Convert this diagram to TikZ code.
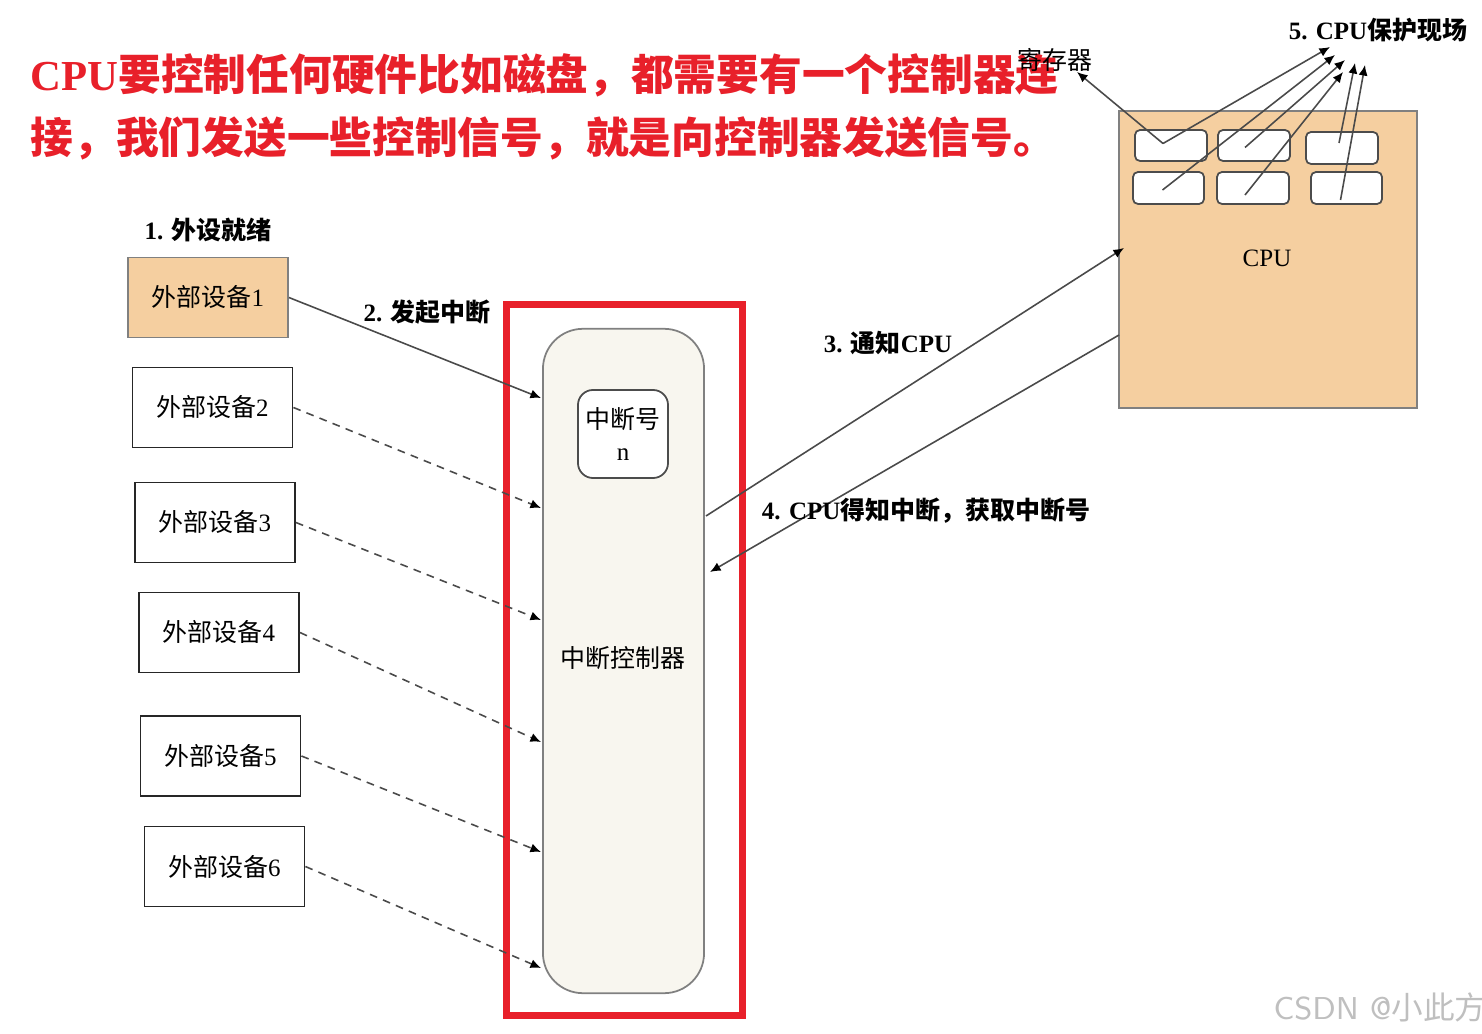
\documentclass[tikz,border=0pt]{standalone}
\usepackage{fontspec}
\setmainfont{Liberation Serif}
\newfontfamily\cjk{Noto Sans CJK SC}
\usepackage{tikz}
\usetikzlibrary{arrows.meta, positioning, calc}
\newcommand{\zh}[1]{{\cjk #1}}
\definecolor{titlered}{HTML}{E8202A}
\definecolor{devorange}{HTML}{F5CFA0}
\definecolor{ctrlcream}{HTML}{F8F6EF}
\definecolor{linegray}{HTML}{4A4A4A}

\begin{document}
\begin{tikzpicture}[
    x=0.01cm, y=-0.01cm,
    every node/.style={font=\fontsize{7.1}{8}\selectfont, inner sep=1pt},
    devbox/.style={rectangle, draw=black!85, line width=0.5pt, fill=white, minimum width=1.6cm, minimum height=0.8cm},
    readybox/.style={devbox, draw=black!50, fill=devorange},
    ctrlbox/.style={rectangle, rounded corners=0.4cm, draw=black!50, line width=0.5pt, fill=ctrlcream, minimum width=1.61cm, minimum height=6.64cm},
    numbox/.style={rectangle, rounded corners=0.15cm, draw=black!70, line width=0.5pt, fill=white, minimum width=0.9cm, minimum height=0.88cm, align=center},
    cpubox/.style={rectangle, draw=black!50, line width=0.6pt, fill=devorange, minimum width=2.98cm, minimum height=2.97cm},
    regbox/.style={rectangle, rounded corners=0.05cm, draw=black!70, line width=0.5pt, fill=white, minimum width=0.72cm, minimum height=0.31cm, inner sep=0pt},
    steplabel/.style={font=\fontsize{7.1}{8}\selectfont\bfseries},
    titletext/.style={font=\fontsize{12.15}{14}\selectfont\bfseries, text=titlered, anchor=west, inner sep=0pt},
    arr/.style={-{Latex[length=3pt,width=2.6pt,color=black]}, draw=linegray, line width=0.45pt},
    dasharr/.style={arr, dash pattern=on 2.2pt off 1.8pt}
]
\useasboundingbox (0,0) rectangle (1482,1034);

% Titel
\node[titletext] (title1) at (30,75) {CPU\zh{要控制任何硬件比如磁盘，都需要有一个控制器连}};
\node[titletext] (title2) at (30,138) {\zh{接，我们发送一些控制信号，就是向控制器发送信号。}};

% Interrupt controller
\node[draw=titlered, line width=2pt, minimum width=2.35cm, minimum height=7.1cm, inner sep=0pt] (redframe) at (624.5,660) {};
\node[ctrlbox] (ctrl) at (623.5,661) {};
\node at (623,658) (ctrllabel) {\zh{中断控制器}};
\node[numbox] (num) at (623,434) {\zh{中断号}\\[1pt]n};

% Peripheral devices
\node[readybox] (d1) at (208,297.5) {\zh{外部设备}1};
\foreach \i/\x/\y in {2/212.5/407.5, 3/215/522.5, 4/219/632.5, 5/220.5/756, 6/224.5/866.5} {
    \node[devbox] (d\i) at (\x,\y) {\zh{外部设备}\i};
}
\node[steplabel, above=0.1cm of d1] (ready) {1. \zh{外设就绪}};

% Interrupt lines into the controller
\foreach \i/\y in {1/398, 2/508, 3/620, 4/742, 5/852, 6/968} {
    \coordinate (in\i) at (541,\y);
}
\draw[arr] (d1.east) -- (in1);
\foreach \i in {2,...,6} {
    \draw[dasharr] (d\i.east) -- (in\i);
}
\node[steplabel] (raise) at (427,312) {2. \zh{发起中断}};

% CPU
\node[cpubox] (cpu) at (1268,259.5) {};
\node (cpulabel) at (1267,258) {CPU};
\node[regbox] (r1) at (1171,145.5) {};
\node[regbox] (r2) at (1254,145.5) {};
\node[regbox, minimum height=0.32cm] (r3) at (1342,148) {};
\node[regbox, minimum width=0.71cm, minimum height=0.32cm] (r4) at (1168.5,188) {};
\node[regbox, minimum height=0.32cm] (r5) at (1253,188) {};
\node[regbox, minimum width=0.71cm, minimum height=0.32cm] (r6) at (1346.5,188) {};

% Controller <-> CPU
\coordinate (notifyS) at (706,516);
\coordinate (notifyE) at (1124,248);
\coordinate (fetchS) at (1119,335);
\coordinate (fetchE) at (710,572);
\draw[arr] (notifyS) -- (notifyE);
\draw[arr] (fetchS) -- (fetchE);
\node[steplabel] (notify) at (888,343) {3. \zh{通知}CPU};
\node[steplabel] (fetch) at (926,511) {4. CPU\zh{得知中断，获取中断号}};

% Registers saved
\node (reglabel) at (1055,60) {\zh{寄存器}};
\node[steplabel] (save) at (1378,30) {5. CPU\zh{保护现场}};
\coordinate (regtip) at (1077,72);
\draw[arr] ([shift={(-8,-2)}]r1.center) -- (regtip);
\foreach \r/\dx/\dy/\tx/\ty in {r1/-8/-2/1330/47, r4/-6/2/1335/55, r2/-9/2/1345/60,
                                r5/-8/7/1343/72, r3/-3/-5/1355/63, r6/-6/12/1365/65} {
    \draw[arr] ([shift={(\dx,\dy)}]\r.center) -- (\tx,\ty);
}

% watermark
\node[text=black!25, font=\fontsize{9}{10}\selectfont\sffamily] (mark) at (1380,1007) {CSDN @\zh{小此方}};
\end{tikzpicture}
\end{document}
